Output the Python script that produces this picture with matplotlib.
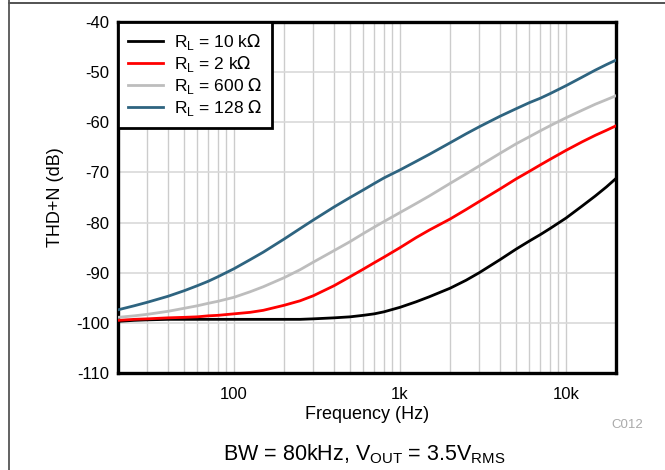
import matplotlib
matplotlib.use("Agg")
import matplotlib.pyplot as plt
from matplotlib.lines import Line2D
from matplotlib.ticker import FixedLocator, NullFormatter, LogLocator

plt.rcParams['font.family'] = ['Liberation Sans', 'DejaVu Sans']

freq = [20, 25, 30, 40, 50, 60, 70, 80, 100, 125, 150, 200, 250, 300, 400, 500, 600, 700, 800,
        1000, 1250, 1500, 2000, 2500, 3000, 4000, 5000, 6000, 7000, 8000, 10000, 12500, 15000, 17500, 20000]

thd_10k = [-99.7, -99.5, -99.4, -99.3, -99.3, -99.3, -99.3, -99.3, -99.3, -99.3, -99.3, -99.3, -99.3, -99.2,
           -99.0, -98.8, -98.5, -98.2, -97.8, -96.9, -95.8, -94.8, -93.1, -91.5, -90.0, -87.4, -85.3, -83.7,
           -82.4, -81.2, -79.1, -76.7, -74.7, -72.9, -71.2]
thd_2k = [-99.5, -99.3, -99.2, -99.0, -98.9, -98.8, -98.6, -98.5, -98.2, -97.9, -97.5, -96.5, -95.6, -94.6,
          -92.6, -90.8, -89.3, -88.0, -86.9, -85.0, -83.0, -81.5, -79.3, -77.4, -75.8, -73.3, -71.3, -69.8,
          -68.5, -67.4, -65.6, -63.9, -62.6, -61.6, -60.7]
thd_600 = [-98.9, -98.6, -98.3, -97.7, -97.1, -96.6, -96.1, -95.7, -94.9, -93.8, -92.8, -91.0, -89.4, -87.9,
           -85.6, -83.8, -82.2, -80.9, -79.8, -78.0, -76.2, -74.7, -72.2, -70.3, -68.7, -66.2, -64.3, -62.9,
           -61.7, -60.7, -59.1, -57.6, -56.4, -55.5, -54.7]
thd_128 = [-97.4, -96.6, -95.9, -94.7, -93.6, -92.6, -91.7, -90.8, -89.2, -87.4, -85.9, -83.3, -81.2, -79.5,
           -76.9, -75.0, -73.5, -72.2, -71.1, -69.5, -67.8, -66.4, -64.1, -62.3, -60.9, -58.8, -57.3, -56.1,
           -55.2, -54.3, -52.7, -51.0, -49.6, -48.5, -47.6]

labels = [r'R$_\mathregular{L}$ = 10 k$\Omega$', r'R$_\mathregular{L}$ = 2 k$\Omega$',
          r'R$_\mathregular{L}$ = 600 $\Omega$', r'R$_\mathregular{L}$ = 128 $\Omega$']
colors = ['#000000', '#ff0000', '#bdbdbd', '#2e6480']
series = [thd_10k, thd_2k, thd_600, thd_128]

xticks = [100, 1000, 10000]
xticklabels = ['100', '1k', '10k']
yticks = [-110, -100, -90, -80, -70, -60, -50, -40]

fig = plt.figure(figsize=(6.65, 4.70), dpi=100)
ax = fig.add_axes([118/665, 1-373/470, (616-118)/665, (373-22)/470])

for y, c, lab in zip(series, colors, labels):
    ax.plot(freq, y, color=c, lw=2.0, label=lab, zorder=3, solid_joinstyle='round')

ax.set_xscale('log')
ax.set_xlim(20, 20000)
ax.set_ylim(-110, -40)
ax.xaxis.set_major_locator(FixedLocator(xticks))
ax.set_xticklabels(xticklabels)
ax.xaxis.set_minor_locator(LogLocator(base=10, subs=range(2, 10)))
ax.xaxis.set_minor_formatter(NullFormatter())
ax.set_yticks(yticks)
ax.set_yticklabels([str(v) for v in yticks])
ax.tick_params(which='both', length=0, labelsize=12)
ax.tick_params(axis='x', pad=10)
ax.tick_params(axis='y', pad=6)
ax.grid(True, which='both', axis='x', color='#cccccc', lw=1.0)
ax.grid(True, which='major', axis='y', color='#d9d9d9', lw=1.2)
ax.set_axisbelow(True)
for s in ax.spines.values():
    s.set_linewidth(2.4)
    s.set_color('black')

ax.set_xlabel('Frequency (Hz)', fontsize=13, labelpad=3)
ax.set_ylabel('THD+N (dB)', fontsize=13, labelpad=9)

leg = ax.legend(loc='upper left', fontsize=12.5, frameon=True, fancybox=False,
                borderaxespad=0, handlelength=2.0, handletextpad=0.6,
                labelspacing=0.1, borderpad=0.6)
leg.get_frame().set_edgecolor('black')
leg.get_frame().set_linewidth(2.0)
leg.get_frame().set_alpha(1)

fig.text(364/665, 1-454/470, r'BW = 80kHz, V$_\mathregular{OUT}$ = 3.5V$_\mathregular{RMS}$',
         ha='center', va='center', fontsize=15.5)
fig.text(627/665, 1-425/470, 'C012', ha='center', va='center', fontsize=9.5, color='#aaaaaa')

fig.add_artist(Line2D([9/665, 1], [1-3/470, 1-3/470], transform=fig.transFigure, color='#444444', lw=1.3))
fig.add_artist(Line2D([9/665, 9/665], [0, 1], transform=fig.transFigure, color='#555555', lw=1.3))

fig.savefig('out.png', dpi=100)
